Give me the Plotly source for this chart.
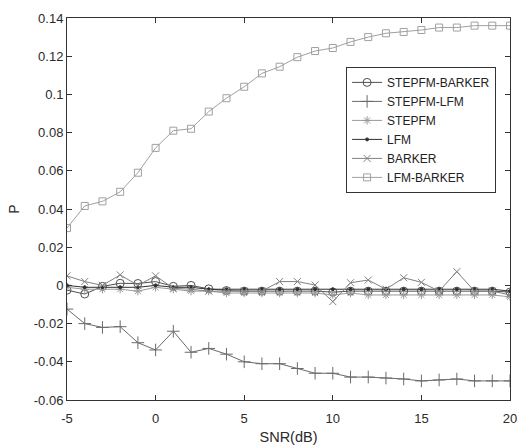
import plotly.graph_objects as go

snr = list(range(-5, 21))

stepfm_barker = [-0.0025, -0.0045, -0.0005, 0.0011, 0.001, 0.002, -0.0005, 0.0, -0.0018, -0.0027,
                 -0.003, -0.003, -0.003, -0.003, -0.003, -0.0035, -0.003, -0.003, -0.003, -0.003,
                 -0.003, -0.003, -0.003, -0.003, -0.003, -0.0035]
stepfm_lfm = [-0.0124, -0.020, -0.022, -0.0216, -0.030, -0.0338, -0.024, -0.035, -0.033, -0.036,
              -0.040, -0.041, -0.041, -0.0435, -0.046, -0.046, -0.048, -0.048, -0.0485, -0.049,
              -0.050, -0.0495, -0.049, -0.050, -0.050, -0.050]
stepfm = [-0.001, -0.002, -0.002, -0.002, -0.003, -0.001, -0.002, -0.003, -0.003, -0.004,
          -0.004, -0.004, -0.004, -0.004, -0.004, -0.005, -0.004, -0.005, -0.005, -0.005,
          -0.005, -0.005, -0.005, -0.005, -0.005, -0.006]
lfm = [0.0, -0.001, -0.001, -0.001, -0.001, 0.0, -0.001, -0.001, -0.002, -0.002,
       -0.002, -0.002, -0.002, -0.002, -0.002, -0.002, -0.002, -0.002, -0.002, -0.002,
       -0.002, -0.002, -0.002, -0.002, -0.002, -0.003]
barker = [0.005, 0.002, 0.0, 0.0055, 0.0, 0.005, -0.0015, -0.002, -0.003, -0.003,
          -0.003, -0.003, 0.002, 0.002, 0.0002, -0.0085, 0.0014, 0.0028, -0.002, 0.004,
          0.0016, -0.003, 0.0072, -0.003, -0.003, -0.005]
lfm_barker = [0.030, 0.0416, 0.044, 0.049, 0.059, 0.072, 0.081, 0.082, 0.091, 0.098,
              0.104, 0.111, 0.1145, 0.1195, 0.1227, 0.1243, 0.1275, 0.130, 0.132, 0.1327,
              0.1337, 0.135, 0.135, 0.136, 0.136, 0.136]

y_ticks = [0.14, 0.12, 0.1, 0.08, 0.06, 0.04, 0.02, 0, -0.02, -0.04, -0.06]
y_labels = ["0.14", "0.12", "0.1", "0.08", "0.06", "0.04", "0.02", "0", "-0.02", "-0.04", "-0.06"]
x_ticks = [-5, 0, 5, 10, 15, 20]
x_labels = ["-5", "0", "5", "10", "15", "20"]

series = [
    ("STEPFM-BARKER", stepfm_barker, "circle-open", 8, "#505050"),
    ("STEPFM-LFM", stepfm_lfm, "cross-thin-open", 9, "#6a6a6a"),
    ("STEPFM", stepfm, "asterisk-open", 7, "#9a9a9a"),
    ("LFM", lfm, "circle", 3, "#303030"),
    ("BARKER", barker, "x-thin-open", 7, "#808080"),
    ("LFM-BARKER", lfm_barker, "square-open", 7, "#a0a0a0"),
]

fig = go.Figure()
for name, vals, sym, size, col in series:
    fig.add_trace(go.Scatter(
        x=snr, y=vals, name=name, mode="lines+markers",
        line=dict(color=col, width=1),
        marker=dict(symbol=sym, size=size, color=col, line=dict(color=col, width=1)),
    ))

font_family = "Liberation Sans, Arial"
axis_common = dict(showline=True, linecolor="#333333", linewidth=1, mirror="ticks",
                   ticks="inside", ticklen=5, tickcolor="#333333", showgrid=False,
                   zeroline=False, automargin=False,
                   tickfont=dict(family=font_family, size=13, color="#2a2a2a"))

fig.update_xaxes(range=[-5, 20], tickvals=x_ticks, ticktext=x_labels, ticklabelstandoff=6,
                 title=dict(text="SNR(dB)", font=dict(family=font_family, size=14.5, color="#2a2a2a"), standoff=8),
                 **axis_common)
fig.update_yaxes(range=[-0.06, 0.14], tickvals=y_ticks, ticktext=y_labels,
                 title=dict(text="P", font=dict(family=font_family, size=14, color="#2a2a2a"), standoff=10),
                 **axis_common)

fig.update_layout(
    width=518, height=445,
    margin=dict(l=67, r=8, t=18, b=45),
    paper_bgcolor="white", plot_bgcolor="white",
    legend=dict(x=0.63, y=0.872, xanchor="left", yanchor="top",
                bgcolor="white", bordercolor="#333333", borderwidth=1,
                font=dict(family=font_family, size=12, color="#222222"),
                tracegroupgap=0, itemwidth=30),
)

fig.write_html("out.html")
